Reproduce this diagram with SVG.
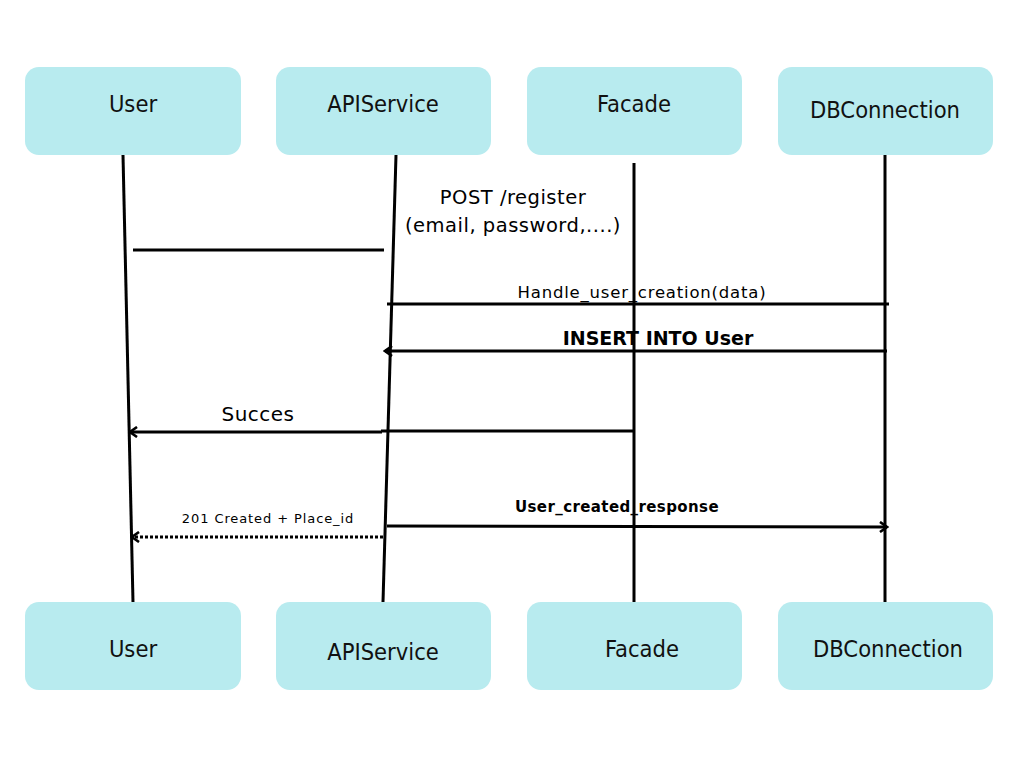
<svg xmlns="http://www.w3.org/2000/svg" width="1024" height="768" viewBox="0 0 1024 768">
<style>
.box{fill:#b8ebef;}
.nl{font-family:"DejaVu Sans Condensed","DejaVu Sans","Liberation Sans",sans-serif;font-stretch:condensed;font-size:23.5px;fill:#111;text-anchor:middle;dominant-baseline:central;}
.life{stroke:#000;stroke-width:3;fill:none;}
.msg{stroke:#000;stroke-width:3;fill:none;}
.ml{font-family:"DejaVu Sans",sans-serif;fill:#000;text-anchor:middle;}
</style>
<defs>
<marker id="ah" viewBox="0 0 12 12" refX="10" refY="6" markerWidth="12" markerHeight="12" markerUnits="userSpaceOnUse" orient="auto">
<path d="M3,1 L10,6 L3,11" fill="none" stroke="#000" stroke-width="2.6"/>
</marker>
</defs>
<rect width="1024" height="768" fill="#fff"/>
<g id="user-top"><rect class="box" x="25" y="67" width="216" height="88" rx="14"/><text class="nl" x="133" y="104">User</text></g>
<g id="api-top"><rect class="box" x="276" y="67" width="215" height="88" rx="14"/><text class="nl" x="383" y="104">APIService</text></g>
<g id="facade-top"><rect class="box" x="527" y="67" width="215" height="88" rx="14"/><text class="nl" x="634" y="104">Facade</text></g>
<g id="db-top"><rect class="box" x="778" y="67" width="215" height="88" rx="14"/><text class="nl" x="885" y="110">DBConnection</text></g>
<g id="user-bottom"><rect class="box" x="25" y="602" width="216" height="88" rx="14"/><text class="nl" x="133" y="649">User</text></g>
<g id="api-bottom"><rect class="box" x="276" y="602" width="215" height="88" rx="14"/><text class="nl" x="383" y="652">APIService</text></g>
<g id="facade-bottom"><rect class="box" x="527" y="602" width="215" height="88" rx="14"/><text class="nl" x="642" y="649">Facade</text></g>
<g id="db-bottom"><rect class="box" x="778" y="602" width="215" height="88" rx="14"/><text class="nl" x="888" y="649">DBConnection</text></g>
<g id="connectors">
<line class="life" x1="123" y1="155" x2="133" y2="602"/>
<line class="life" x1="396" y1="155" x2="383" y2="602"/>
<line class="life" x1="634" y1="163" x2="634" y2="602"/>
<line class="life" x1="885" y1="155" x2="885" y2="602"/>
<line class="msg" x1="133" y1="250" x2="384" y2="250"/>
<line class="msg" x1="387" y1="304" x2="889" y2="304"/>
<line class="msg" x1="887" y1="351" x2="385" y2="351" marker-end="url(#ah)"/>
<line class="msg" x1="634" y1="431" x2="381" y2="431"/>
<line class="msg" x1="382" y1="432" x2="130" y2="432" marker-end="url(#ah)"/>
<line class="msg" x1="387" y1="526" x2="887" y2="527" marker-end="url(#ah)"/>
<line class="msg" x1="383" y1="537" x2="132" y2="537" stroke-dasharray="3,2" marker-end="url(#ah)"/>
</g>
<g id="labels">
<text class="ml" x="513" y="204" font-size="19.5" letter-spacing="0.5">POST /register</text>
<text class="ml" x="513" y="232" font-size="19.5" letter-spacing="0.5">(email, password,....)</text>
<text class="ml" x="642" y="298" font-size="16.5" letter-spacing="0.8">Handle_user_creation(data)</text>
<text class="ml" x="658" y="345" font-size="19" font-weight="bold">INSERT INTO User</text>
<text class="ml" x="258" y="421" font-size="20" letter-spacing="0.5">Succes</text>
<text class="ml" x="617" y="512" font-size="15" font-weight="bold" letter-spacing="0.4">User_created_response</text>
<text class="ml" x="268" y="523" font-size="13" letter-spacing="0.9">201 Created + Place_id</text>
</g>
</svg>
